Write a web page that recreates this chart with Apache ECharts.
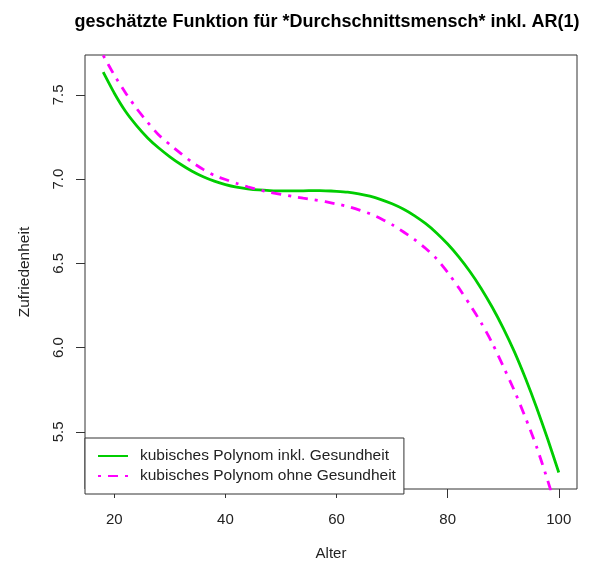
<!DOCTYPE html>
<html>
<head>
<meta charset="utf-8">
<script src="https://cdn.jsdelivr.net/npm/echarts@6/dist/echarts.min.js"></script>
<style>
  html, body { margin: 0; padding: 0; background: #fff; }
  #chart { width: 590px; height: 566px; }
</style>
</head>
<body>
<div id="chart"></div>
<script>
// Alter (x) und geschätzte Zufriedenheit (y)
var ages = [18, 20, 22, 24, 26, 28, 30, 32, 34, 36, 38, 40, 42, 44, 46, 48, 50, 52, 54, 56, 58,
  60, 62, 64, 66, 68, 70, 72, 74, 76, 78, 80, 82, 84, 86, 88, 90, 92, 94, 96, 98, 100]
var mitGesundheit = [7.635, 7.51, 7.403, 7.318, 7.245, 7.185, 7.133, 7.087, 7.047, 7.014, 6.988, 6.968,
  6.953, 6.943, 6.936, 6.932, 6.93, 6.93, 6.931, 6.932, 6.931, 6.928, 6.923, 6.913, 6.899, 6.879, 6.854,
  6.823, 6.784, 6.737, 6.681, 6.615, 6.539, 6.452, 6.353, 6.241, 6.116, 5.976, 5.818, 5.645, 5.458, 5.259]
var ohneGesundheit = [7.735, 7.617, 7.513, 7.42, 7.337, 7.262, 7.205, 7.152, 7.1, 7.058, 7.022, 6.998,
  6.975, 6.955, 6.937, 6.922, 6.91, 6.898, 6.887, 6.877, 6.866, 6.853, 6.838, 6.818, 6.795, 6.765, 6.73,
  6.688, 6.643, 6.59, 6.528, 6.447, 6.355, 6.255, 6.149, 6.029, 5.889, 5.745, 5.585, 5.412, 5.212, 4.995]
var xTicks = [20, 40, 60, 80, 100]
var yTicks = [5.5, 6.0, 6.5, 7.0, 7.5]
var seriesNames = ['kubisches Polynom inkl. Gesundheit', 'kubisches Polynom ohne Gesundheit']

function pairs(ys) {
  return ages.map(function (a, i) { return [a, ys[i]] })
}

var font = 'Liberation Sans, Arial, sans-serif'
var chart = echarts.init(document.getElementById('chart'))
chart.setOption({
  animation: false,
  backgroundColor: '#fff',
  title: {
    text: 'geschätzte Funktion für *Durchschnittsmensch* inkl. AR(1)',
    left: 322,
    textAlign: 'center',
    top: 8,
    textStyle: { fontFamily: font, fontSize: 18, fontWeight: 'bold', color: '#000' }
  },
  grid: {
    left: 85, right: 13, top: 55, bottom: 73,
    show: true, borderColor: '#333', borderWidth: 1, backgroundColor: 'transparent'
  },
  legend: {
    orient: 'vertical',
    left: 85,
    top: 438,
    padding: [10, 8, 10, 12],
    itemGap: 4,
    itemWidth: 30,
    itemHeight: 17,
    borderColor: '#333',
    borderWidth: 1,
    backgroundColor: '#fff',
    itemStyle: { opacity: 0 },
    textStyle: { fontFamily: font, fontSize: 15.5, color: '#222', padding: [0, 0, 0, 7] },
    data: seriesNames
  },
  xAxis: {
    type: 'value',
    min: 14.72,
    max: 103.28,
    name: 'Alter',
    nameLocation: 'middle',
    nameGap: 57,
    nameTextStyle: { fontFamily: font, fontSize: 15, color: '#222' },
    axisLine: { show: false },
    axisTick: { show: true, length: 9, lineStyle: { color: '#333' }, customValues: xTicks },
    axisLabel: { fontFamily: font, fontSize: 15, color: '#222', margin: 23, customValues: xTicks },
    splitLine: { show: false }
  },
  yAxis: {
    type: 'value',
    min: 5.161,
    max: 7.737,
    name: 'Zufriedenheit',
    nameLocation: 'middle',
    nameGap: 52,
    nameTextStyle: { fontFamily: font, fontSize: 15.5, color: '#222' },
    axisLine: { show: false },
    axisTick: { show: true, length: 9, lineStyle: { color: '#333' }, customValues: yTicks },
    axisLabel: {
      fontFamily: font, fontSize: 15, color: '#222', margin: 19, rotate: 90,
      customValues: yTicks,
      formatter: function (v) { return v.toFixed(1) }
    },
    splitLine: { show: false }
  },
  series: [
    {
      name: seriesNames[0],
      type: 'line',
      data: pairs(mitGesundheit),
      showSymbol: false,
      symbol: 'none',
      smooth: 0.2,
      clip: true,
      lineStyle: { color: '#00CD00', width: 2.8 },
      itemStyle: { color: '#00CD00' }
    },
    {
      name: seriesNames[1],
      type: 'line',
      data: pairs(ohneGesundheit),
      showSymbol: false,
      symbol: 'none',
      smooth: 0.2,
      clip: true,
      lineStyle: { color: '#FF00FF', width: 2.8, type: [3, 7, 10, 7], cap: 'butt' },
      itemStyle: { color: '#FF00FF' }
    }
  ]
})
</script>
</body>
</html>
